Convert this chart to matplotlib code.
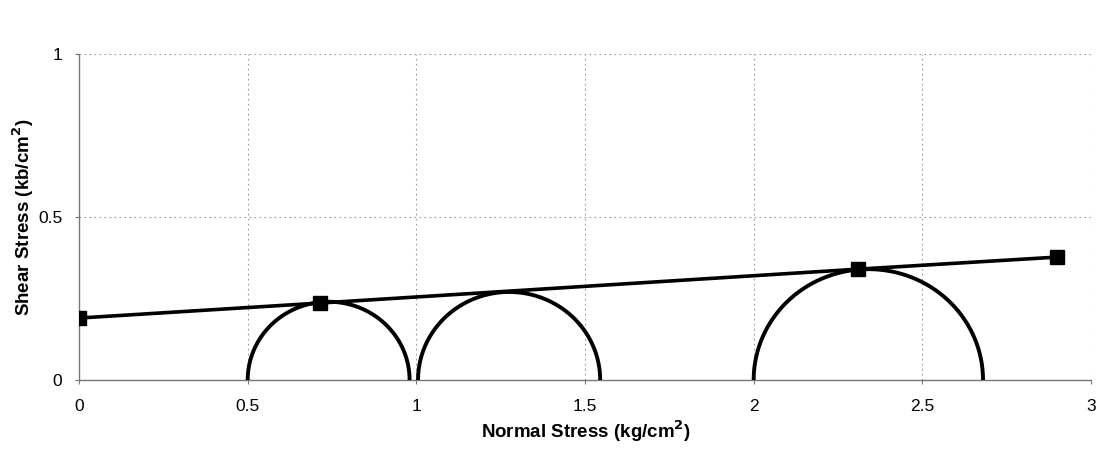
import numpy as np
import matplotlib.pyplot as plt

plt.rcParams['font.family'] = ['Liberation Sans', 'DejaVu Sans']

# Mohr circles: minor and major principal stress (kg/cm2)
sigma3 = [0.50, 1.005, 2.00]
sigma1 = [0.98, 1.545, 2.68]

# failure envelope points
env_x = [0.0, 0.714, 2.31, 2.90]
env_y = [0.19, 0.236, 0.34, 0.377]

fig = plt.figure(figsize=(10.99, 4.5), dpi=100)
ax = fig.add_axes([0.0719, 0.1556, 0.9208, 0.7244])

for s3, s1 in zip(sigma3, sigma1):
    c = (s1 + s3) / 2
    r = (s1 - s3) / 2
    th = np.linspace(0, np.pi, 200)
    ax.plot(c + r * np.cos(th), r * np.sin(th), color='black', lw=2.8, zorder=3)

ax.plot(env_x, env_y, color='black', lw=2.6, marker='s', markersize=10, zorder=4)

ax.set_xlim(0, 3)
ax.set_ylim(0, 1)
ax.set_xticks([0, 0.5, 1, 1.5, 2, 2.5, 3])
ax.set_xticklabels(['0', '0.5', '1', '1.5', '2', '2.5', '3'])
ax.set_yticks([0, 0.5, 1])
ax.set_yticklabels(['0', '0.5', '1'])
ax.grid(True, color='#999999', linestyle=(0, (1.5, 3)), lw=0.8)
for s in ['top', 'right']:
    ax.spines[s].set_visible(False)
for s in ['left', 'bottom']:
    ax.spines[s].set_color('#777777')
    ax.spines[s].set_linewidth(1.0)
ax.tick_params(axis='both', labelsize=12.5, color='#777777', length=3)
ax.tick_params(axis='x', pad=11)
ax.tick_params(axis='y', pad=9)
ax.set_xlabel('Normal Stress (kg/cm$^\\mathbf{2}$)', fontsize=13.5, fontweight='bold', va='center')
ax.set_ylabel('Shear Stress (kb/cm$^\\mathbf{2}$)', fontsize=13.5, fontweight='bold', va='center')
ax.xaxis.set_label_coords(0.501, -0.158)
ax.yaxis.set_label_coords(-0.055, 0.5)

fig.savefig('out.png', dpi=100)
